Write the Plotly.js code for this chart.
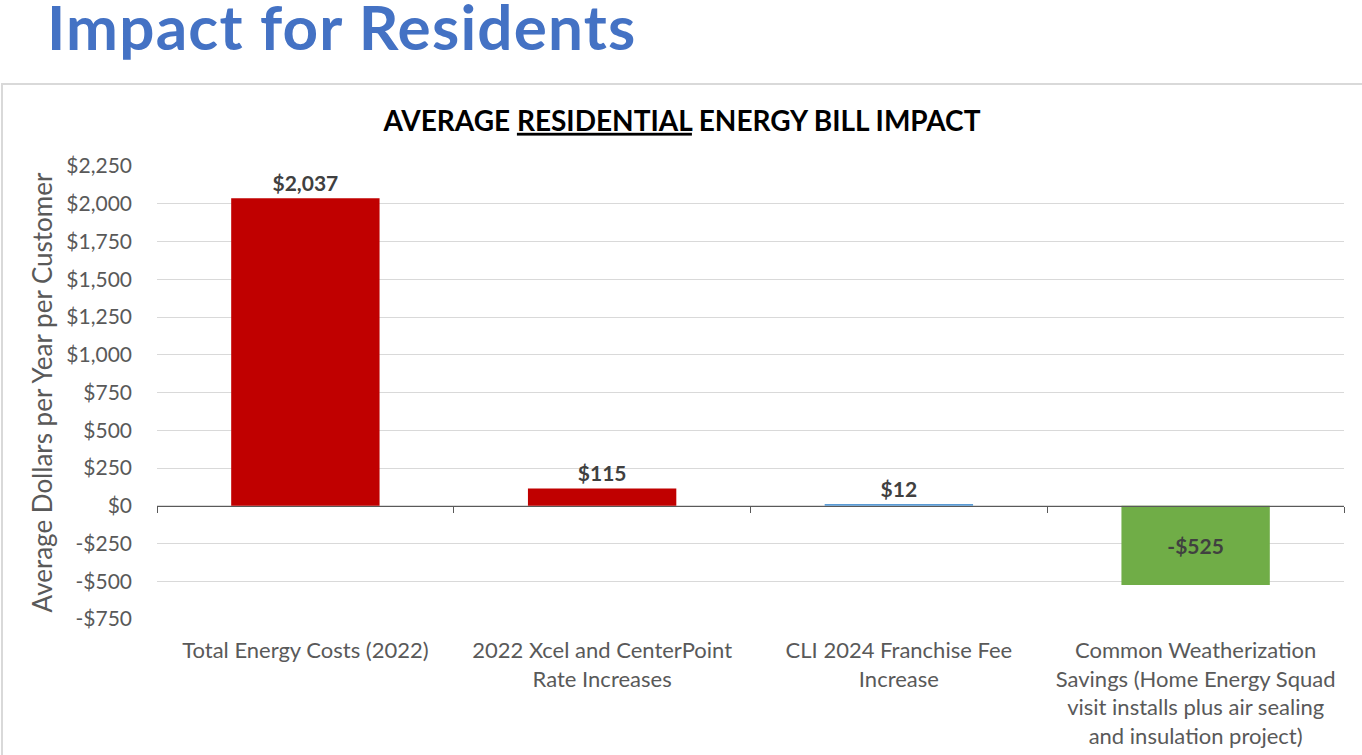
<!DOCTYPE html>
<html>
<head>
<meta charset="utf-8">
<script src="https://cdn.plot.ly/plotly-3.0.1.min.js"></script>
<style>
  html, body { margin: 0; padding: 0; background: #ffffff; overflow: hidden; }
  #page { position: relative; width: 1362px; height: 755px; overflow: hidden; }
  #head { position: absolute; left: 47px; top: 0px; height: 74px; line-height: normal; margin-top: -11px; font-family: Lato, "Open Sans", sans-serif; font-weight: 700; font-size: 62px; color: #4472C4; white-space: nowrap; letter-spacing: 1.2px; }
  #frame { position: absolute; left: 1px; top: 83px; width: 1400px; height: 700px; border-top: 2px solid #d9d9d9; border-left: 2px solid #d9d9d9; }
  #chart { position: absolute; left: 0; top: 0; width: 1362px; height: 755px; }
</style>
</head>
<body>
<div id="page">
  <div id="head">Impact for Residents</div>
  <div id="frame"></div>
  <div id="chart"></div>
</div>
<script>
const categories = [
  'Total Energy Costs (2022)',
  '2022 Xcel and CenterPoint<br>Rate Increases',
  'CLI 2024 Franchise Fee<br>Increase',
  'Common Weatherization<br>Savings (Home Energy Squad<br>visit installs plus air sealing<br>and insulation project)'
];
const values = [2037, 115, 12, -525];
const barColors = ['#C00000', '#C00000', '#5B9BD5', '#70AD47'];
const labelPositions = ['outside', 'outside', 'outside', 'inside'];
const tickVals = [-750, -500, -250, 0, 250, 500, 750, 1000, 1250, 1500, 1750, 2000, 2250];
const tickLabels = ['-$750', '-$500', '-$250', '$0', '$250', '$500', '$750', '$1,000', '$1,250', '$1,500', '$1,750', '$2,000', '$2,250'];

function money(v) {
  return (v < 0 ? '-' : '') + '$' + Math.abs(v).toLocaleString('en-US');
}

const FONT = 'Lato, "Open Sans", sans-serif';
const labelFont = { family: FONT, size: 21, color: '#404040', weight: 700 };

const bars = {
  type: 'bar',
  x: categories,
  y: values,
  marker: { color: barColors, line: { width: 0 } },
  text: values.map(money),
  textposition: labelPositions,
  insidetextanchor: 'middle',
  textfont: labelFont,
  outsidetextfont: labelFont,
  insidetextfont: labelFont,
  cliponaxis: false,
  constraintext: 'none',
  hoverinfo: 'skip',
  xaxis: 'x',
  yaxis: 'y'
};

const baseline = {
  type: 'scatter',
  mode: 'none',
  x: categories,
  y: values,
  hoverinfo: 'skip',
  showlegend: false,
  xaxis: 'x2',
  yaxis: 'y'
};

const layout = {
  width: 1362,
  height: 755,
  margin: { l: 157, r: 18, t: 166, b: 136, pad: 0 },
  paper_bgcolor: 'rgba(0,0,0,0)',
  plot_bgcolor: 'rgba(0,0,0,0)',
  showlegend: false,
  bargap: 0.5,
  font: { family: FONT, color: '#595959' },
  title: {
    text: 'AVERAGE <u>RESIDENTIAL</u> ENERGY BILL IMPACT',
    font: { family: FONT, size: 28, color: '#000000', weight: 700 },
    xref: 'container', x: 0.5007,
    yref: 'container', y: 1 - 121 / 755, yanchor: 'middle', xanchor: 'center'
  },
  xaxis: {
    type: 'category',
    range: [-0.5, 3.5],
    showline: false,
    showgrid: false,
    zeroline: false,
    ticks: '',
    tickangle: 0,
    ticklabelstandoff: 16,
    tickfont: { family: FONT, size: 22, color: '#595959' },
    fixedrange: true
  },
  xaxis2: {
    type: 'category',
    overlaying: 'x',
    anchor: 'free',
    position: 0.25,
    range: [-0.5, 3.5],
    showline: true,
    linecolor: '#595959',
    linewidth: 1,
    ticks: 'outside',
    tickson: 'boundaries',
    ticklen: 6,
    tickcolor: '#595959',
    tickwidth: 1,
    showticklabels: false,
    showgrid: false,
    zeroline: false
  },
  yaxis: {
    range: [-750, 2250],
    tickvals: tickVals,
    ticktext: tickLabels,
    tickfont: { family: FONT, size: 21, color: '#595959' },
    ticklabelstandoff: 24,
    showgrid: true,
    gridcolor: '#d9d9d9',
    gridwidth: 1,
    zeroline: false,
    showline: false,
    ticks: '',
    title: {
      text: 'Average Dollars per Year per Customer',
      font: { family: FONT, size: 26, color: '#595959' },
      standoff: 6
    },
    fixedrange: true
  }
};

Plotly.newPlot('chart', [bars, baseline], layout, { displayModeBar: false, staticPlot: true });
</script>
</body>
</html>
